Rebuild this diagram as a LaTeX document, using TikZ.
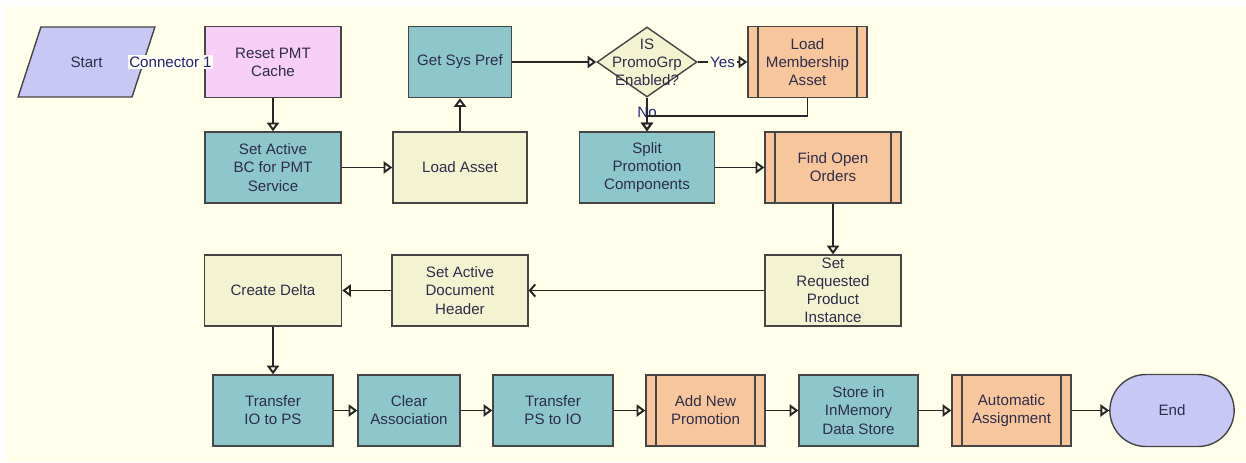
\documentclass[tikz,border=0pt]{standalone}
\usepackage{fontspec}
\setmainfont{Liberation Sans}
\usetikzlibrary{arrows.meta,shapes.geometric,shapes.misc,calc}

\definecolor{bgcream}{RGB}{255,255,236}
\definecolor{tealbox}{RGB}{141,199,204}
\definecolor{pinkbox}{RGB}{246,206,246}
\definecolor{creambox}{RGB}{243,243,210}
\definecolor{orangebox}{RGB}{248,198,156}
\definecolor{lavbox}{RGB}{200,200,246}
\definecolor{edgegray}{RGB}{70,70,70}
\definecolor{inktext}{RGB}{45,45,75}

\begin{document}
\begin{tikzpicture}[
		>={Triangle[open,length=5pt,width=7pt]},
		font=\fontsize{8.6}{10.3}\selectfont,
		box/.style={rectangle, draw=edgegray, line width=0.8pt, text=inktext, align=center, minimum height=1.42cm, inner xsep=2pt, inner ysep=0pt},
		task/.style={box, fill=tealbox},
		plain/.style={box, fill=creambox},
		subproc/.style={box, fill=orangebox, path picture={
				\draw[line width=0.8pt, edgegray]
				([xshift=0.2cm]path picture bounding box.north west) -- ([xshift=0.2cm]path picture bounding box.south west)
				([xshift=-0.2cm]path picture bounding box.north east) -- ([xshift=-0.2cm]path picture bounding box.south east);}},
		decision/.style={diamond, draw=edgegray, line width=0.8pt, fill=creambox, minimum width=2cm, minimum height=1.4cm, inner sep=0pt},
		terminal/.style={draw=edgegray, line width=0.8pt, fill=lavbox, text=inktext, minimum height=1.42cm},
		lbl/.style={text=inktext!80!blue, inner sep=1pt},
		flow/.style={->, line width=1.1pt, black!85}
		]
		
		% --------------------------------------------------
		% Canvas
		% --------------------------------------------------
		\useasboundingbox (0,0) rectangle (24.92,-9.24);
		\fill[white] (0,0) rectangle (24.92,-9.24);
		\fill[bgcream] (0.12,-0.14) rectangle (24.92,-9.24);
		
		% --------------------------------------------------
		% Row 1
		% --------------------------------------------------
		\node[terminal, trapezium, trapezium left angle=64, trapezium right angle=116, trapezium stretches=true, minimum width=2.74cm, minimum height=1.4cm] (start) at (1.73,-1.24) {Start};
		\node[box, fill=pinkbox, minimum width=2.72cm] (reset) at (5.46,-1.24) {Reset PMT\\Cache};
		\node[lbl, fill=white!55!bgcream] (conn1) at (3.41,-1.24) {Connector 1};
		\node[task, minimum width=2.06cm] (sysprf) at (9.2,-1.24) {Get Sys Pref};
		\node[decision] (promo) at (12.94,-1.24) {};
		\node[text=inktext, align=center] (promotext) at (promo) {IS\\PromoGrp\\Enabled?};
		\node[subproc, minimum width=2.38cm] (member) at (16.15,-1.24) {Load\\Membership\\Asset};
		
		% --------------------------------------------------
		% Row 2
		% --------------------------------------------------
		\node[task, minimum width=2.72cm] (setbc) at (5.46,-3.35) {Set Active\\BC for PMT\\Service};
		\node[plain, minimum width=2.68cm] (loadasset) at (9.2,-3.35) {Load Asset};
		\node[task, minimum width=2.7cm] (split) at (12.94,-3.35) {Split\\Promotion\\Components};
		\node[subproc, minimum width=2.72cm] (findopen) at (16.66,-3.35) {Find Open\\Orders};
		
		% --------------------------------------------------
		% Row 3
		% --------------------------------------------------
		\node[plain, minimum width=2.74cm] (delta) at (5.46,-5.81) {Create Delta};
		\node[plain, minimum width=2.72cm] (setdoc) at (9.2,-5.81) {Set Active\\Document\\Header};
		\node[plain, minimum width=2.72cm] (setreq) at (16.66,-5.81) {Set\\Requested\\Product\\Instance};
		
		% --------------------------------------------------
		% Row 4
		% --------------------------------------------------
		\node[task, minimum width=2.4cm] (toPS) at (5.46,-8.21) {Transfer\\IO to PS};
		\node[task, minimum width=2.04cm] (clear) at (8.18,-8.21) {Clear\\Association};
		\node[task, minimum width=2.4cm] (toIO) at (11.06,-8.21) {Transfer\\PS to IO};
		\node[subproc, minimum width=2.38cm] (addnew) at (14.11,-8.21) {Add New\\Promotion};
		\node[task, minimum width=2.38cm] (store) at (17.17,-8.21) {Store in\\InMemory\\Data Store};
		\node[subproc, minimum width=2.38cm] (autoassign) at (20.23,-8.21) {Automatic\\Assignment};
		\node[terminal, rounded rectangle, minimum width=2.72cm, minimum height=1.44cm] (stop) at (23.44,-8.21) {End};
		
		% --------------------------------------------------
		% Connectors
		% --------------------------------------------------
		\draw[flow] (reset) -- (setbc);
		\draw[flow] (setbc) -- (loadasset);
		\draw[flow] (loadasset) -- (sysprf);
		\draw[flow] (sysprf) -- (promo);
		\draw[flow] (promo) -- node[lbl, fill=bgcream] {Yes} (member);
		\draw[flow] (promo) -- node[lbl, pos=0.45] {No} (split);
		\draw[flow] (member.south) -- ++(0,-0.36) -| (split.north);
		\draw[flow] (split) -- (findopen);
		\draw[flow] (findopen) -- (setreq);
		\draw[line width=1.1pt, black!85, -{Straight Barb[length=3pt,width=7pt]}] (setreq) -- (setdoc);
		\draw[flow] (setdoc) -- (delta);
		\draw[flow] (delta) -- (toPS);
		\draw[flow] (toPS) -- (clear);
		\draw[flow] (clear) -- (toIO);
		\draw[flow] (toIO) -- (addnew);
		\draw[flow] (addnew) -- (store);
		\draw[flow] (store) -- (autoassign);
		\draw[flow] (autoassign) -- (stop);
		
	\end{tikzpicture}
\end{document}
